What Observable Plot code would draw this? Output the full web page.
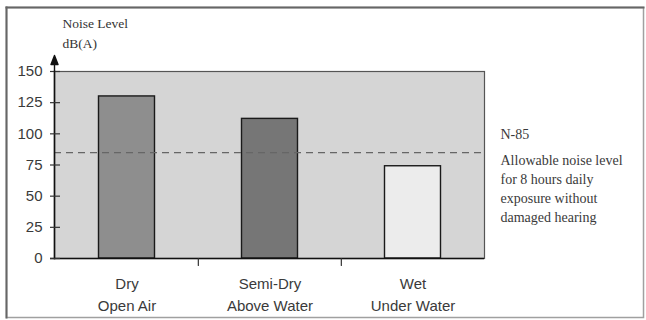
<!DOCTYPE html>
<html>
<head>
<meta charset="utf-8">
<script src="https://cdn.jsdelivr.net/npm/d3@7"></script>
<script src="https://cdn.jsdelivr.net/npm/@observablehq/plot@0.6"></script>
<style>
  html, body { margin: 0; padding: 0; background: #fff; }
</style>
</head>
<body>
<div id="chart"></div>
<script>
// Noise level by working condition
const categories = ["Dry\nOpen Air", "Semi-Dry\nAbove Water", "Wet\nUnder Water"];
const noiseLevels = [130, 112, 74];
const barShades = ["#8e8e8e", "#767676", "#ececec"];
const yTicks = [0, 25, 50, 75, 100, 125, 150];
const limitValue = 85;
const limitTitle = "N-85";
const limitNote = "Allowable noise level\nfor 8 hours daily\nexposure without\ndamaged hearing";
const yLabel = "Noise Level\ndB(A)";

const rows = categories.map((c, i) => ({category: c, value: noiseLevels[i], shade: barShades[i]}));

const W = 646, H = 320;
const mL = 54, mR = 162, mT = 71, mB = 62;
const step = (W - mL - mR) / categories.length;

// short vertical segment drawn downward from the anchor
const segment = {
  draw(context, l) {
    context.moveTo(0, 0);
    context.lineTo(0, -l);
  }
};
// axis shaft with a filled arrowhead
const axisArrow = {
  draw(context, l) {
    context.moveTo(0, 0);
    context.lineTo(0, -l);
    context.moveTo(-3.5, -l + 9);
    context.lineTo(0, -l);
    context.lineTo(3.5, -l + 9);
    context.closePath();
  }
};

const serif = "'Liberation Serif', 'Times New Roman', serif";
const sans = "'Liberation Sans', Arial, sans-serif";

const chart = Plot.plot({
  width: W,
  height: H,
  marginLeft: mL,
  marginRight: mR,
  marginTop: mT,
  marginBottom: mB,
  style: {fontFamily: sans, background: "#fff", overflow: "visible"},
  x: {domain: categories, padding: 0, axis: null},
  y: {domain: [0, 150], axis: null},
  marks: [
    // outer border of the figure
    Plot.frame({insetTop: -(mT - 7), insetLeft: -(mL - 6), insetRight: -(mR - 3), insetBottom: -(mB - 3), stroke: "#a0a0a0", strokeWidth: 1.5}),
    Plot.frame({anchor: "top", insetTop: -(mT - 7), insetLeft: -(mL - 6), insetRight: -(mR - 3), stroke: "#666", strokeWidth: 2}),
    Plot.frame({anchor: "left", insetTop: -(mT - 7), insetLeft: -(mL - 6), insetBottom: -(mB - 3), stroke: "#666", strokeWidth: 2}),
    // shaded plotting area
    Plot.frame({fill: "#d5d5d5", stroke: "#555", strokeWidth: 1.2}),
    // bars
    Plot.barY(rows, {
      x: "category",
      y: "value",
      fill: {value: "shade", scale: null},
      stroke: "#1a1a1a",
      strokeWidth: 1.4,
      insetLeft: 43.5,
      insetRight: 43.5
    }),
    // N-85 limit line
    Plot.ruleY([limitValue], {stroke: "#666", strokeWidth: 1.2, strokeDasharray: "7,5"}),
    // axis lines
    Plot.ruleY([0], {stroke: "#111", strokeWidth: 1.6, insetLeft: -4}),
    Plot.frame({anchor: "left", stroke: "#111", strokeWidth: 1.6}),
    // tick marks across the value axis
    Plot.ruleY(yTicks, {stroke: "#333", strokeWidth: 1.2, insetLeft: -4, insetRight: W - mL - mR - 6}),
    Plot.axisY({
      ticks: yTicks,
      tickSize: 0,
      tickPadding: 12,
      fontSize: 15,
      fill: "#3a3a3a",
      stroke: "none",
      label: null
    }),
    // arrow on top of the value axis
    Plot.vector([0], {
      frameAnchor: "top-left",
      anchor: "start",
      length: 16,
      shape: axisArrow,
      stroke: "#111",
      strokeWidth: 1.4,
      fill: "#111"
    }),
    // boundary ticks between categories
    Plot.vector(categories.slice(1), {
      x: d => d,
      y: 0,
      dx: -step / 2,
      anchor: "start",
      length: 7,
      rotate: 180,
      shape: segment,
      stroke: "#333",
      strokeWidth: 1.2
    }),
    // category labels
    Plot.axisX({
      tickSize: 0,
      tickPadding: 15,
      fontSize: 15,
      lineHeight: 1.45,
      fill: "#3a3a3a",
      label: null
    }),
    // axis title
    Plot.text([yLabel], {
      frameAnchor: "top-left",
      textAnchor: "start",
      lineAnchor: "bottom",
      dx: 8,
      dy: -24,
      lineHeight: 1.45,
      fontSize: 13.5,
      fontFamily: serif,
      fill: "#333"
    }),
    // limit annotation
    Plot.text([limitTitle], {
      y: limitValue,
      frameAnchor: "right",
      textAnchor: "start",
      lineAnchor: "bottom",
      dx: 16,
      dy: -14,
      fontSize: 14,
      fontFamily: serif,
      fill: "#3a3a3a"
    }),
    Plot.text([limitNote], {
      y: limitValue,
      frameAnchor: "right",
      textAnchor: "start",
      lineAnchor: "top",
      dx: 16,
      dy: -1,
      lineHeight: 1.36,
      fontSize: 14,
      fontFamily: serif,
      fill: "#3a3a3a"
    })
  ]
});

document.getElementById("chart").append(chart);
</script>
</body>
</html>
